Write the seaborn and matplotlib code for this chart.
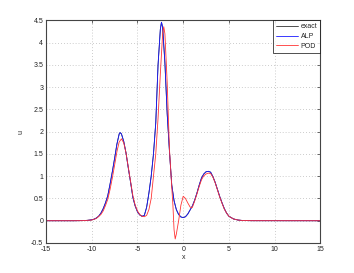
import matplotlib
matplotlib.use("Agg")
import matplotlib.pyplot as plt
from matplotlib.lines import Line2D
import seaborn as sns
import numpy as np

# ---- data ----
x_alp = [-15, -12, -11, -10.5, -10, -9.75, -9.5, -9.25, -9, -8.75, -8.5, -8.25, -8, -7.75, -7.5,
         -7.25, -7, -6.9, -6.75, -6.5, -6.25, -6, -5.75, -5.5, -5.25, -5, -4.75, -4.5, -4.25,
         -4, -3.75, -3.5, -3.25, -3, -2.75, -2.5, -2.375, -2.25, -2, -1.75, -1.5, -1.25, -1,
         -0.75, -0.5, -0.25, 0, 0.25, 0.5, 0.75, 1, 1.25, 1.5, 1.75, 2, 2.25, 2.5, 2.75, 3,
         3.25, 3.5, 3.75, 4, 4.25, 4.5, 4.75, 5, 5.5, 6, 6.5, 7.5, 15]
u_alp = [0, 0, 0.003, 0.008, 0.02, 0.035, 0.06, 0.1, 0.17, 0.27, 0.40, 0.56, 0.82, 1.10, 1.40,
         1.72, 1.95, 1.98, 1.95, 1.78, 1.52, 1.18, 0.86, 0.52, 0.33, 0.20, 0.13, 0.10, 0.12,
         0.30, 0.62, 1.0, 1.5, 2.2, 3.5, 4.3, 4.46, 4.35, 3.55, 2.4, 1.55, 0.8, 0.45,
         0.25, 0.14, 0.085, 0.07, 0.09, 0.15, 0.24, 0.33, 0.46, 0.62, 0.80, 0.96, 1.05, 1.10, 1.11, 1.09,
         0.99, 0.86, 0.70, 0.54, 0.40, 0.27, 0.17, 0.10, 0.04, 0.015, 0.005, 0.001, 0]

x_exact = list(x_alp)
u_exact = list(u_alp)

x_pod = [-15, -12, -11, -10, -9.5, -9, -8.75, -8.5, -8.25, -8, -7.75, -7.5, -7.25, -7, -6.75,
         -6.5, -6.25, -6, -5.75, -5.5, -5.25, -5, -4.75, -4.5, -4.25, -4, -3.75, -3.5, -3.25,
         -3, -2.75, -2.5, -2.25, -2.125, -2, -1.75, -1.5, -1.25, -1.125, -1, -0.875, -0.75,
         -0.5, -0.25, 0, 0.25, 0.5, 0.75, 0.9, 1, 1.25, 1.5, 1.75, 2, 2.25, 2.5, 2.75, 3,
         3.25, 3.5, 3.75, 4, 4.25, 4.5, 4.75, 5, 5.5, 6, 6.5, 7.5, 15]
u_pod = [0, 0, 0.002, 0.015, 0.05, 0.14, 0.22, 0.34, 0.48, 0.70, 0.96, 1.25, 1.55, 1.77, 1.84,
         1.75, 1.52, 1.20, 0.88, 0.56, 0.35, 0.22, 0.14, 0.10, 0.09, 0.12, 0.25, 0.5, 1.0,
         1.5, 2.3, 3.3, 4.2, 4.36, 4.2, 3.1, 1.6, 0.75, 0.35, -0.2, -0.41, -0.3,
         0.0, 0.35, 0.55, 0.50, 0.40, 0.31, 0.29, 0.30, 0.44, 0.60, 0.77, 0.92, 1.01, 1.05, 1.07, 1.06,
         0.98, 0.85, 0.69, 0.53, 0.39, 0.26, 0.17, 0.10, 0.04, 0.015, 0.005, 0.001, 0]

x_ticks = [-15, -10, -5, 0, 5, 10, 15]
y_ticks = [-0.5, 0, 0.5, 1, 1.5, 2, 2.5, 3, 3.5, 4, 4.5]

sns.set_style("white")
plt.rcParams['font.family'] = ['Liberation Sans', 'DejaVu Sans']
plt.rcParams['axes.unicode_minus'] = True

fig = plt.figure(figsize=(3.54, 2.73), dpi=100)
ax = fig.add_axes([0.13, 0.11, 0.775, 0.815])

lw = 0.6
c_exact, c_alp, c_pod = '#333333', '#1a1aff', '#ff3333'
sns.lineplot(x=x_exact, y=u_exact, ax=ax, color=c_exact, linewidth=lw, sort=False)
sns.lineplot(x=x_alp, y=u_alp, ax=ax, color=c_alp, linewidth=lw, sort=False)
sns.lineplot(x=x_pod, y=u_pod, ax=ax, color=c_pod, linewidth=lw, sort=False)

ax.set_xlim(-15, 15)
ax.set_ylim(-0.5, 4.5)
ax.set_xticks(x_ticks)
ax.set_yticks(y_ticks)
ax.set_xticklabels([str(t) for t in x_ticks])
ax.set_yticklabels([('%g' % t) for t in y_ticks])
ax.tick_params(direction='in', length=2.5, width=0.5, labelsize=5, top=True, right=True,
               pad=2, colors='#333333', labelcolor='#222222')
for s in ax.spines.values():
    s.set_linewidth(0.8)
    s.set_color('#444444')
ax.grid(True, linestyle=(0, (1, 2.5)), linewidth=0.6, color='#bbbbbb')
ax.set_xlabel('x', fontsize=5, labelpad=1)
ax.set_ylabel('u', fontsize=5, labelpad=5)

handles = [Line2D([], [], color=c_exact, lw=lw),
           Line2D([], [], color=c_alp, lw=lw),
           Line2D([], [], color=c_pod, lw=lw)]
leg = ax.legend(handles, ['exact', 'ALP', 'POD'], loc='upper right', fontsize=5, frameon=True,
                fancybox=False, borderaxespad=0.0, handlelength=3.2, handletextpad=0.4,
                labelspacing=0.4, borderpad=0.4)
leg.get_frame().set_edgecolor('k')
leg.get_frame().set_linewidth(0.6)

fig.savefig('out.png', dpi=100)
